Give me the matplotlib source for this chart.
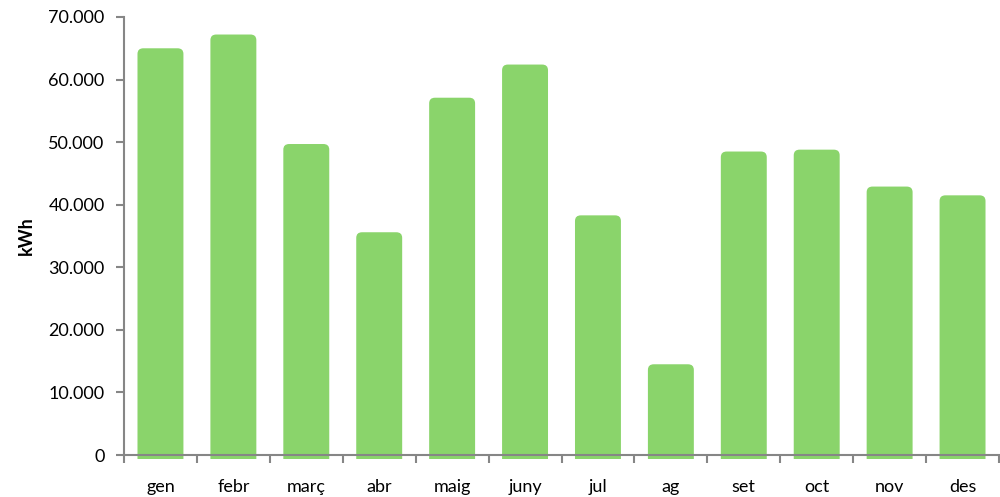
import matplotlib.pyplot as plt
from matplotlib.patches import FancyBboxPatch, Rectangle
from matplotlib.ticker import FuncFormatter, FixedLocator

months = ["gen", "febr", "març", "abr", "maig", "juny", "jul", "ag", "set", "oct", "nov", "des"]
kwh = [65000, 67200, 49700, 35600, 57100, 62400, 38300, 14500, 48500, 48800, 42900, 41500]

plt.rcParams['font.family'] = ['Lato', 'DejaVu Sans']
green = "#8ad46b"
axis_gray = "#868686"

fig = plt.figure(figsize=(10, 4.97), dpi=100)
ax = fig.add_axes([0.124, 0.0845, 0.875, 0.8813])

width = 0.63
bars = ax.bar(range(len(months)), kwh, width=width, color="none")
rx = 0.08      # corner radius in category units
ry = 900       # corner radius in kWh
# bars poke slightly below the zero line; clip away the rounded bottoms
clip = Rectangle((-1, -650), len(months) + 2, 100000, transform=ax.transData)
for b in bars:
    x0, h = b.get_x(), b.get_height()
    p = FancyBboxPatch((x0, -5000), width, h + 5000,
                       boxstyle=f"round,pad=0,rounding_size={rx}",
                       mutation_aspect=ry / rx,
                       fc=green, ec="none", zorder=2)
    ax.add_patch(p)
    p.set_clip_path(clip)

ax.set_xlim(-0.5, len(months) - 0.5)
ax.set_ylim(0, 70000)
ax.set_yticks(range(0, 70001, 10000))
ax.yaxis.set_major_formatter(FuncFormatter(lambda v, p: f"{int(v):,}".replace(",", ".")))

ax.xaxis.set_major_locator(FixedLocator([i - 0.5 for i in range(len(months) + 1)]))
ax.set_xticklabels([])
ax.set_xticks(range(len(months)), minor=True)
ax.set_xticklabels(months, minor=True)
ax.tick_params(axis="x", which="minor", length=0, pad=17, labelsize=13)
ax.tick_params(axis="x", which="major", length=6, width=1.5, color=axis_gray, direction="out")
ax.tick_params(axis="y", length=6, width=1.5, color=axis_gray, labelsize=13, pad=8)

for s in ["top", "right"]:
    ax.spines[s].set_visible(False)
for s in ["left", "bottom"]:
    ax.spines[s].set_color(axis_gray)
    ax.spines[s].set_linewidth(1.5)
    ax.spines[s].set_zorder(3)

ax.set_ylabel("kWh", fontsize=13, fontweight="bold", labelpad=10)

fig.savefig("out.png", dpi=100)
